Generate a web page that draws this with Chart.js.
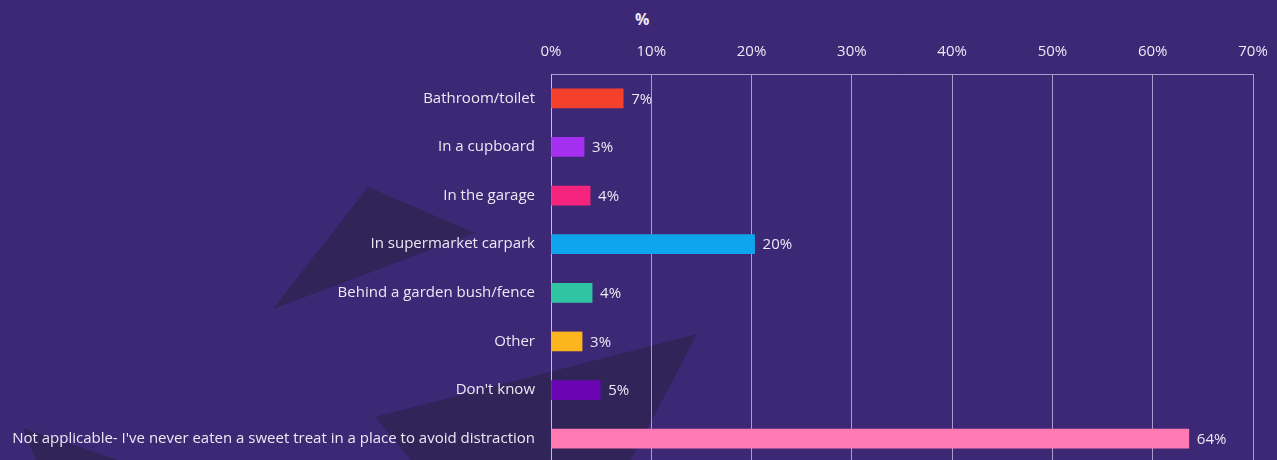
<!DOCTYPE html>
<html>
<head>
<meta charset="utf-8">
<script src="https://cdn.jsdelivr.net/npm/chart.js@4"></script>
<style>
  html, body { margin: 0; padding: 0; overflow: hidden; background: #3d2875; }
  #wrap { position: relative; width: 1277px; height: 460px; overflow: hidden; }
  .tri { position: absolute; left: 0; top: 0; width: 1277px; height: 700px; background: #302459; }
  #t1 { clip-path: polygon(368px 187px, 475px 233px, 273px 309px); }
  #t2 { clip-path: polygon(375px 417px, 697px 334px, 546px 622px); }
  #t3 { clip-path: polygon(23px 428px, 177px 480px, 44px 480px); }
  #unit { position: absolute; left: 635px; top: 8px; color: #ece8f4; font: bold 16px "Open Sans", sans-serif; }
  canvas { position: absolute; left: 0; top: 0; }
</style>
</head>
<body>
<div id="wrap">
  <div class="tri" id="t1"></div>
  <div class="tri" id="t2"></div>
  <div class="tri" id="t3"></div>
  <div id="unit">%</div>
  <canvas id="chart" width="1277" height="488"></canvas>
</div>
<script>
// categorias e valores
const places = [
    'Bathroom/toilet',
    'In a cupboard',
    'In the garage',
    'In supermarket carpark',
    'Behind a garden bush/fence',
    'Other',
    "Don't know",
    "Not applicable- I've never eaten a sweet treat in a place to avoid distraction"
];
const shares = [7.2, 3.3, 3.9, 20.3, 4.1, 3.1, 4.9, 63.6];
const barColors = ['#f5402c', '#a42ff0', '#f4247c', '#0ea5ec', '#2fc4a2', '#fbb51f', '#6b05b4', '#ff79b2'];
const tickValues = [0, 10, 20, 30, 40, 50, 60, 70];

const textColor = '#ece8f4';
const gridColor = 'rgba(205, 195, 235, 0.75)';

// Plugin para escrever o valor ao lado de cada barra
const valueLabels = {
    id: 'valueLabels',
    afterDatasetsDraw(chart) {
        const ctx = chart.ctx;
        const meta = chart.getDatasetMeta(0);
        ctx.save();
        ctx.font = '15px "Open Sans", sans-serif';
        ctx.fillStyle = textColor;
        ctx.textBaseline = 'middle';
        ctx.textAlign = 'left';
        meta.data.forEach((bar, i) => {
            ctx.fillText(Math.round(shares[i]) + '%', bar.x + 8, bar.y + 1);
        });
        ctx.restore();
    }
};

new Chart(document.getElementById('chart'), {
    type: 'bar',
    data: {
        labels: places,
        datasets: [{
            data: shares,
            backgroundColor: barColors,
            borderWidth: 0,
            barThickness: 19
        }]
    },
    options: {
        indexAxis: 'y',
        responsive: false,
        animation: false,
        layout: { padding: { top: 0, right: 24, bottom: 6, left: 0 } },
        plugins: {
            legend: { display: false },
            tooltip: { enabled: false }
        },
        scales: {
            x: {
                position: 'top',
                min: 0,
                max: 70,
                afterBuildTicks: (scale) => {
                    scale.ticks = tickValues.map(v => ({ value: v }));
                },
                afterFit: (scale) => {
                    scale.height = 74;
                    // não reservar espaço extra para o rótulo 70%
                    scale.paddingLeft = 0;
                    scale.paddingRight = 0;
                },
                grid: { color: gridColor, drawTicks: false, lineWidth: 1 },
                border: { display: true, color: gridColor },
                ticks: {
                    color: textColor,
                    padding: 13,
                    font: { family: 'Open Sans', size: 15 },
                    callback: (v) => v + '%'
                }
            },
            y: {
                afterFit: (scale) => { scale.width = 551; },
                grid: { display: false, drawTicks: false },
                border: { display: true, color: gridColor },
                ticks: {
                    color: textColor,
                    padding: 16,
                    font: { family: 'Open Sans', size: 15 }
                }
            }
        }
    },
    plugins: [valueLabels]
});
</script>
</body>
</html>
